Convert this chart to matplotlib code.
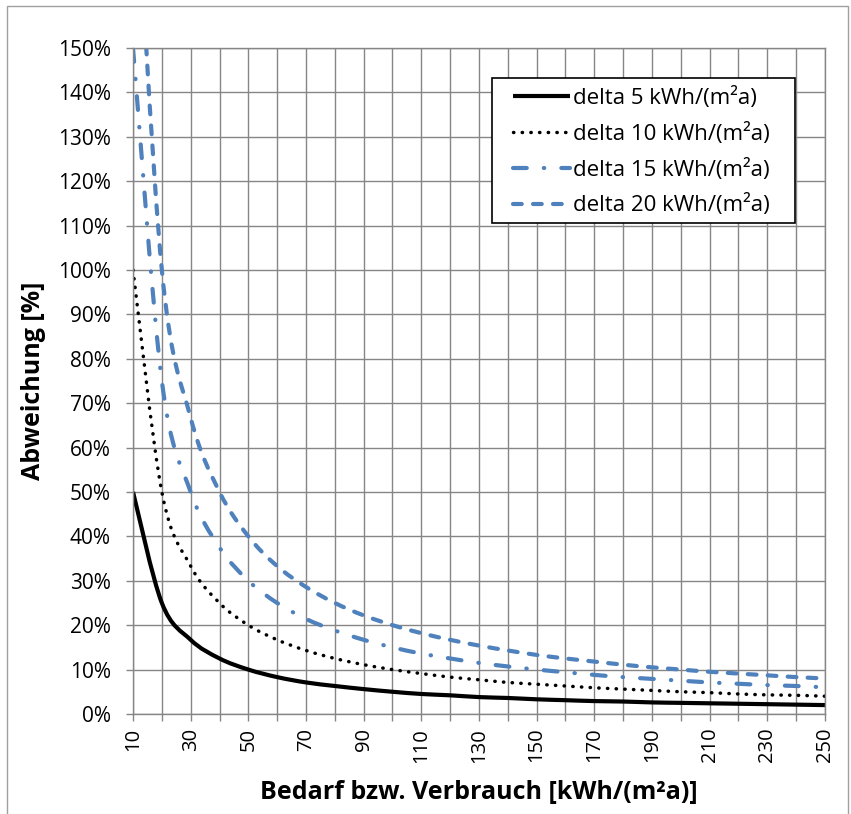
import matplotlib
matplotlib.use("Agg")
import matplotlib.pyplot as plt
import numpy as np
from matplotlib.path import Path
from matplotlib.patches import PathPatch, Rectangle
from matplotlib.lines import Line2D
from matplotlib.ticker import FuncFormatter, MultipleLocator

plt.rcParams['font.family'] = ['Open Sans', 'DejaVu Sans']

# Bedarf bzw. Verbrauch [kWh/(m²a)]
bedarf = [10, 20, 30, 40, 50, 60, 70, 80, 90, 100, 110, 120, 130, 140, 150,
          160, 170, 180, 190, 200, 210, 220, 230, 240, 250]

# Abweichung [%]
delta_5 = [50.0, 25.0, 16.7, 12.5, 10.0, 8.3, 7.1, 6.3, 5.6, 5.0, 4.5, 4.2, 3.8,
           3.6, 3.3, 3.1, 2.9, 2.8, 2.6, 2.5, 2.4, 2.3, 2.2, 2.1, 2.0]
delta_10 = [100.0, 50.0, 33.3, 25.0, 20.0, 16.7, 14.3, 12.5, 11.1, 10.0, 9.1, 8.3,
            7.7, 7.1, 6.7, 6.3, 5.9, 5.6, 5.3, 5.0, 4.8, 4.5, 4.3, 4.2, 4.0]
delta_15 = [150.0, 75.0, 50.0, 37.5, 30.0, 25.0, 21.4, 18.8, 16.7, 15.0, 13.6, 12.5,
            11.5, 10.7, 10.0, 9.4, 8.8, 8.3, 7.9, 7.5, 7.1, 6.8, 6.5, 6.3, 6.0]
delta_20 = [200.0, 100.0, 66.7, 50.0, 40.0, 33.3, 28.6, 25.0, 22.2, 20.0, 18.2, 16.7,
            15.4, 14.3, 13.3, 12.5, 11.8, 11.1, 10.5, 10.0, 9.5, 9.1, 8.7, 8.3, 8.0]

labels = ['delta 5 kWh/(m²a)', 'delta 10 kWh/(m²a)',
          'delta 15 kWh/(m²a)', 'delta 20 kWh/(m²a)']

blue = '#4F81BD'
styles = [
    dict(color='black', lw=3.0, ls='solid', cap='butt'),
    dict(color='black', lw=2.5, ls=(0, (0.1, 2.4)), cap='round'),
    dict(color=blue, lw=3.0, ls=(0, (3.3, 4.1, 0.1, 4.1)), cap='round'),
    dict(color=blue, lw=3.0, ls=(0, (2.1, 2.7)), cap='round'),
]


def smooth_path(x, y):
    """Cubic Bezier through the points (Catmull-Rom style smoothing)."""
    pts = np.column_stack([x, y]).astype(float)
    n = len(pts)
    verts = [pts[0]]
    codes = [Path.MOVETO]
    for i in range(n - 1):
        p0 = pts[i - 1] if i > 0 else pts[i]
        p1 = pts[i]
        p2 = pts[i + 1]
        p3 = pts[i + 2] if i + 2 < n else pts[i + 1]
        c1 = p1 + (p2 - p0) / 6.0
        c2 = p2 - (p3 - p1) / 6.0
        verts += [c1, c2, p2]
        codes += [Path.CURVE4] * 3
    return Path(verts, codes)


fig = plt.figure(figsize=(8.51, 8.14), dpi=100)
ax = fig.add_axes([0.1563, 0.1229, 0.9694 - 0.1563, 0.941 - 0.1229])

grid_c = '#868686'
ax.set_xlim(10, 250)
ax.set_ylim(0, 150)
ax.xaxis.set_major_locator(MultipleLocator(10))
ax.yaxis.set_major_locator(MultipleLocator(10))
ax.grid(True, color=grid_c, lw=1.0)
ax.set_axisbelow(True)
for s in ax.spines.values():
    s.set_color(grid_c)
    s.set_linewidth(1.0)

xt = list(range(10, 251, 10))
ax.set_xticks(xt)
ax.set_xticklabels([str(v) if (v - 10) % 20 == 0 else '' for v in xt],
                   rotation=90, fontsize=14.5)
ax.yaxis.set_major_formatter(FuncFormatter(lambda v, p: f'{int(round(v))}%'))
ax.tick_params(axis='both', colors=grid_c, labelcolor='black', length=5, width=1.0)
ax.tick_params(axis='y', labelsize=15, pad=11)
ax.tick_params(axis='x', pad=5)

for data, st in zip([delta_5, delta_10, delta_15, delta_20], styles):
    patch = PathPatch(smooth_path(bedarf, data), fill=False, edgecolor=st['color'],
                      lw=st['lw'], linestyle=st['ls'], capstyle=st['cap'],
                      joinstyle='round')
    ax.add_patch(patch)

# legend box
ax.add_patch(Rectangle((0.5188, 0.7372), 0.9566 - 0.5188, 0.955 - 0.7372,
                       transform=ax.transAxes, facecolor='white',
                       edgecolor='black', lw=1.2, zorder=4))

handles = [Line2D([], [], color=st['color'], lw=st['lw'], linestyle=st['ls'],
                  dash_capstyle=st['cap'], solid_capstyle='butt') for st in styles]
leg = ax.legend(handles, labels, loc='upper left', bbox_to_anchor=(0.549, 0.9415),
                borderaxespad=0, borderpad=0, fontsize=16, frameon=False,
                handlelength=2.57, handletextpad=0.15, labelspacing=0.62)
leg.set_zorder(5)

ax.set_ylabel('Abweichung [%]', fontsize=18, fontweight='bold')
ax.set_xlabel('Bedarf bzw. Verbrauch [kWh/(m²a)]', fontsize=18, fontweight='bold')
ax.yaxis.set_label_coords(-0.126, 0.5)
ax.xaxis.set_label_coords(0.5, -0.099)

fig.patches.append(Rectangle((7 / 851, -0.01), 841 / 851, 1 - 6 / 814 + 0.01,
                             transform=fig.transFigure, fill=False,
                             edgecolor='#A0A0A0', lw=1.0))

fig.savefig('out.png', dpi=100)
